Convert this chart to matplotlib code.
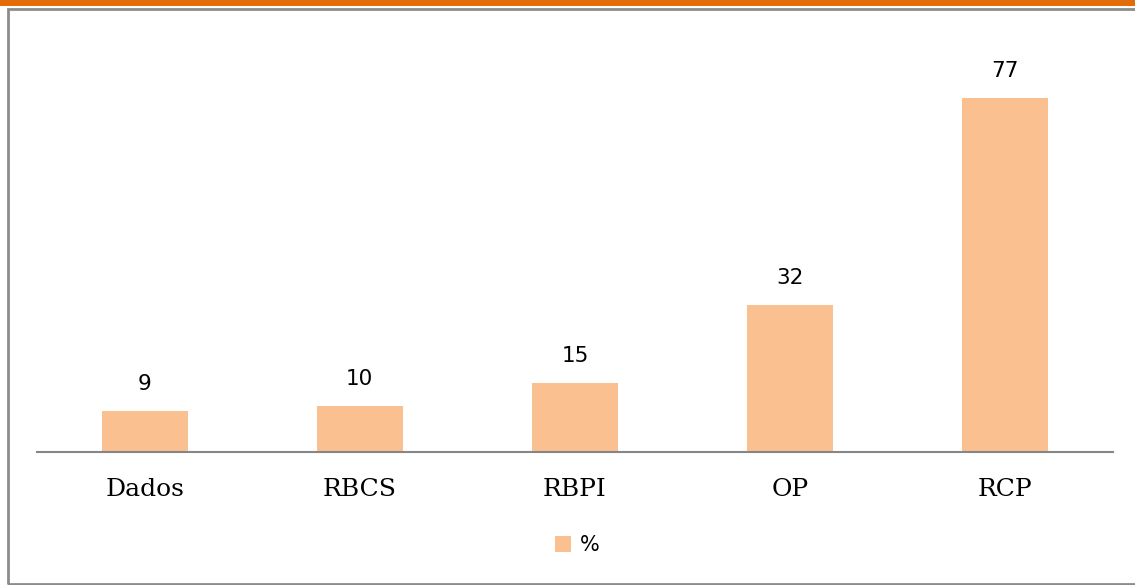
import matplotlib.pyplot as plt
from matplotlib.patches import Rectangle

cats = ['Dados', 'RBCS', 'RBPI', 'OP', 'RCP']
vals = [9, 10, 15, 32, 77]
series_name = '%'

W, H = 1135, 585
fig = plt.figure(figsize=(W/100, H/100), dpi=100)

# orange band and grey frame
fig.patches.append(Rectangle((0, 1 - 6/H), 1, 6/H, transform=fig.transFigure,
                             facecolor='#E36C0A', edgecolor='none'))
fig.patches.append(Rectangle((8/W, 1/H), 1.2, 1 - 10/H, transform=fig.transFigure,
                             facecolor='none', edgecolor='#8c8c8c', linewidth=2))

ax = fig.add_axes([37/W, 1 - 452/H, (1113 - 37)/W, (452 - 38)/H])
x = range(len(cats))
bars = ax.bar(x, vals, width=0.4, color='#FAC090', label=series_name)
ax.set_xlim(-0.5, len(cats) - 0.5)
ax.set_ylim(0, 90)

for xi, v in zip(x, vals):
    ax.annotate(str(v), (xi, v), xytext=(0, 27), textcoords='offset pixels',
                ha='center', va='center', fontsize=15.5, family='DejaVu Sans')

ax.set_xticks(list(x))
ax.set_xticklabels(cats, family='DejaVu Serif', fontsize=18)
ax.tick_params(axis='x', length=0, pad=19)
ax.set_yticks([])
for s in ['top', 'right', 'left']:
    ax.spines[s].set_visible(False)
ax.spines['bottom'].set_color('#868686')
ax.spines['bottom'].set_linewidth(1.5)

fig.legend(loc='center', bbox_to_anchor=(577/W, 1 - 545/H), frameon=False,
           fontsize=15, handlelength=0.8, handleheight=0.8, handletextpad=0.4)

fig.savefig('out.png', dpi=100)
